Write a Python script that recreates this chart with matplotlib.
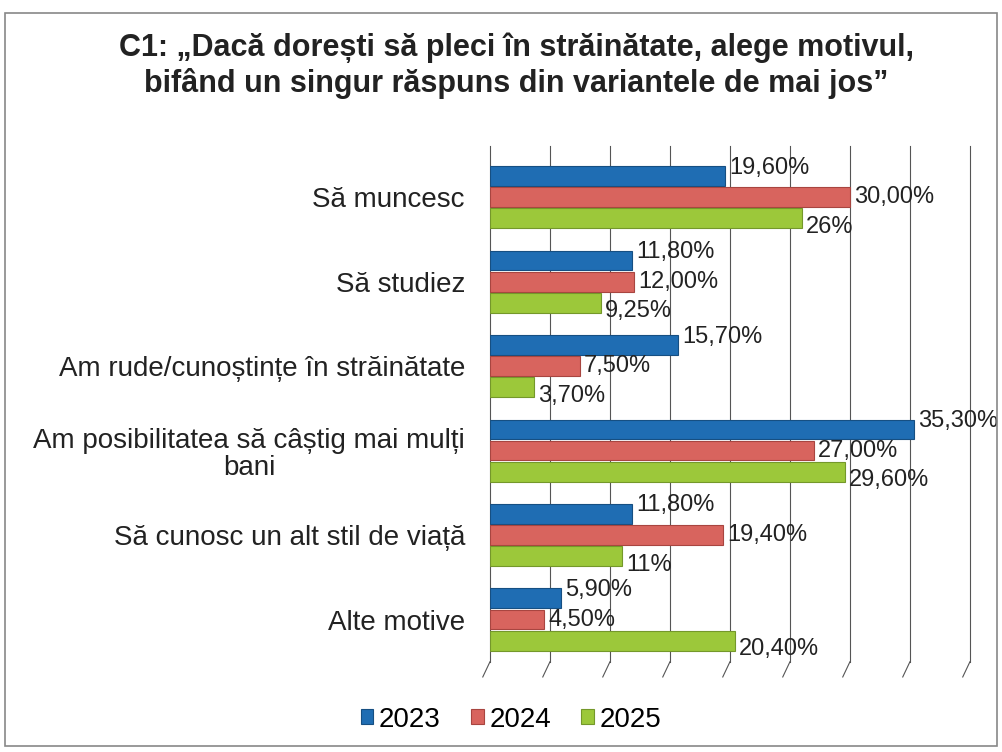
import numpy as np
import matplotlib
matplotlib.use('Agg')
import matplotlib.pyplot as plt
from matplotlib.patches import Rectangle

plt.rcParams['font.family'] = ['Liberation Sans', 'DejaVu Sans']

# ─── data ────────────────────────────────────────────────────────────────
categories = [
    "Să muncesc",
    "Să studiez",
    "Am rude/cunoștințe în străinătate",
    "Am posibilitatea să câștig mai mulți\nbani",
    "Să cunosc un alt stil de viață",
    "Alte motive",
]
years = ["2023", "2024", "2025"]
v2023 = [19.60, 11.80, 15.70, 35.30, 11.80, 5.90]
v2024 = [30.00, 12.00, 7.50, 27.00, 19.40, 4.50]
v2025 = [26.0, 9.25, 3.70, 29.60, 11.0, 20.40]
lab2023 = ["19,60%", "11,80%", "15,70%", "35,30%", "11,80%", "5,90%"]
lab2024 = ["30,00%", "12,00%", "7,50%", "27,00%", "19,40%", "4,50%"]
lab2025 = ["26%", "9,25%", "3,70%", "29,60%", "11%", "20,40%"]

colors = ["#1f6db3", "#d8645e", "#9cc83a"]
edges = ["#164f82", "#a84540", "#74982a"]

fig = plt.figure(figsize=(10.02, 7.52), dpi=100)
ax = fig.add_axes([0.489, 0.120, 0.479, 0.674])

y = np.arange(len(categories))
h = 0.235
offs = [-0.25, 0.0, 0.25]
lab_offs = [-0.1, 0.0, 0.1]
series = [v2023, v2024, v2025]
labels = [lab2023, lab2024, lab2025]

# grid (vertical, with small perspective strokes at the bottom)
for gx in np.arange(0, 45, 5):
    ax.plot([gx, gx], [5.5, -0.6], color="#555555", lw=0.8, zorder=0,
            clip_on=False)
    ax.plot([gx - 0.6, gx], [5.68, 5.5], color="#555555", lw=0.8, zorder=0,
            clip_on=False)

for s, vals in enumerate(series):
    ax.barh(y + offs[s], vals, height=h, color=colors[s],
            edgecolor=edges[s], linewidth=0.8, zorder=3, label=years[s])
    for i, v in enumerate(vals):
        ax.text(v + 0.35, y[i] + offs[s] + lab_offs[s], labels[s][i],
                va="center", ha="left", fontsize=17, color="#222222", zorder=4)

ax.set_xlim(0, 40)
ax.set_ylim(5.5, -0.5)
ax.set_yticks(y)
ax.set_yticklabels(categories, fontsize=20, color="#222222", linespacing=1.05)
for t in ax.get_yticklabels():
    t.set_multialignment("center")
ax.tick_params(axis="y", length=0, pad=18)
ax.set_xticks([])
for sp in ax.spines.values():
    sp.set_visible(False)
ax.patch.set_alpha(0)

fig.text(0.515, 0.913, "C1: „Dacă dorești să pleci în străinătate, alege motivul,\n"
         "bifând un singur răspuns din variantele de mai jos”",
         ha="center", va="center", fontsize=22, fontweight="bold",
         color="#222222", linespacing=1.2)

fig.legend(loc="center", bbox_to_anchor=(0.51, 0.043), ncol=3, frameon=False,
           fontsize=20, handlelength=0.45, handleheight=0.45, handletextpad=0.2,
           columnspacing=1.1)

fig.patches.append(Rectangle((0.005, 0.008), 0.99, 0.975, transform=fig.transFigure,
                             fill=False, edgecolor="#888888", lw=1.2))

fig.savefig("out.png", dpi=100)
